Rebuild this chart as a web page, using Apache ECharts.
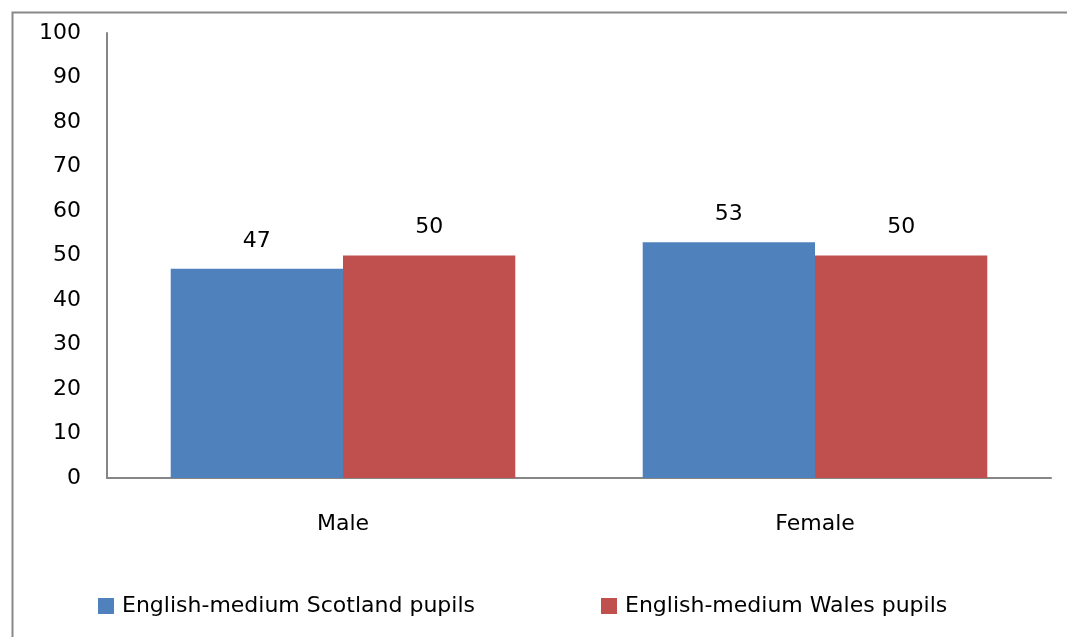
<!DOCTYPE html>
<html><head><meta charset="utf-8">
<script src="https://cdn.jsdelivr.net/npm/echarts@6/dist/echarts.min.js"></script>
<style>html,body{margin:0;padding:0;background:#fff}#c{width:1067px;height:637px}</style>
</head><body><div id="c"></div>
<script>
const categories = ['Male', 'Female'];
const seriesNames = ['English-medium Scotland pupils', 'English-medium Wales pupils'];
const scotland = [47, 53];
const wales = [50, 50];
const colors = ['#4F81BD', '#C0504D'];
const FONT = 'DejaVu Sans';
const FS = 22;
const chart = echarts.init(document.getElementById('c'));
chart.setOption({
  animation: false,
  textStyle: { fontFamily: FONT },
  graphic: [{ type: 'rect', left: 10, top: 10, shape: { width: 1100, height: 700 }, style: { fill: 'none', stroke: '#888', lineWidth: 2 } }],
  grid: { left: 107, right: 16, top: 33, bottom: 159 },
  legend: {
    bottom: 15, left: 93, itemWidth: 16, itemHeight: 16, itemGap: 126,
    icon: 'rect',
    textStyle: { fontFamily: FONT, fontSize: FS, color: '#000', padding: [0, 0, 0, 3] },
    data: seriesNames
  },
  xAxis: {
    type: 'category', data: categories,
    axisLine: { lineStyle: { color: '#868686', width: 2 } },
    axisTick: { show: false },
    axisLabel: { color: '#000', fontSize: FS, fontFamily: FONT, margin: 35 }
  },
  yAxis: {
    type: 'value', min: 0, max: 100, interval: 10,
    axisLine: { show: true, lineStyle: { color: '#868686', width: 2 } },
    axisTick: { show: false },
    splitLine: { show: false },
    axisLabel: { color: '#000', fontSize: FS, fontFamily: FONT, margin: 26 }
  },
  series: [
    { name: seriesNames[0], type: 'bar', data: scotland, barGap: '0%', barCategoryGap: '27%', itemStyle: { color: colors[0] },
      label: { show: true, position: 'top', distance: 17, color: '#000', fontSize: FS, fontFamily: FONT } },
    { name: seriesNames[1], type: 'bar', data: wales, barGap: '0%', barCategoryGap: '27%', itemStyle: { color: colors[1] },
      label: { show: true, position: 'top', distance: 17, color: '#000', fontSize: FS, fontFamily: FONT } }
  ]
});
</script></body></html>
